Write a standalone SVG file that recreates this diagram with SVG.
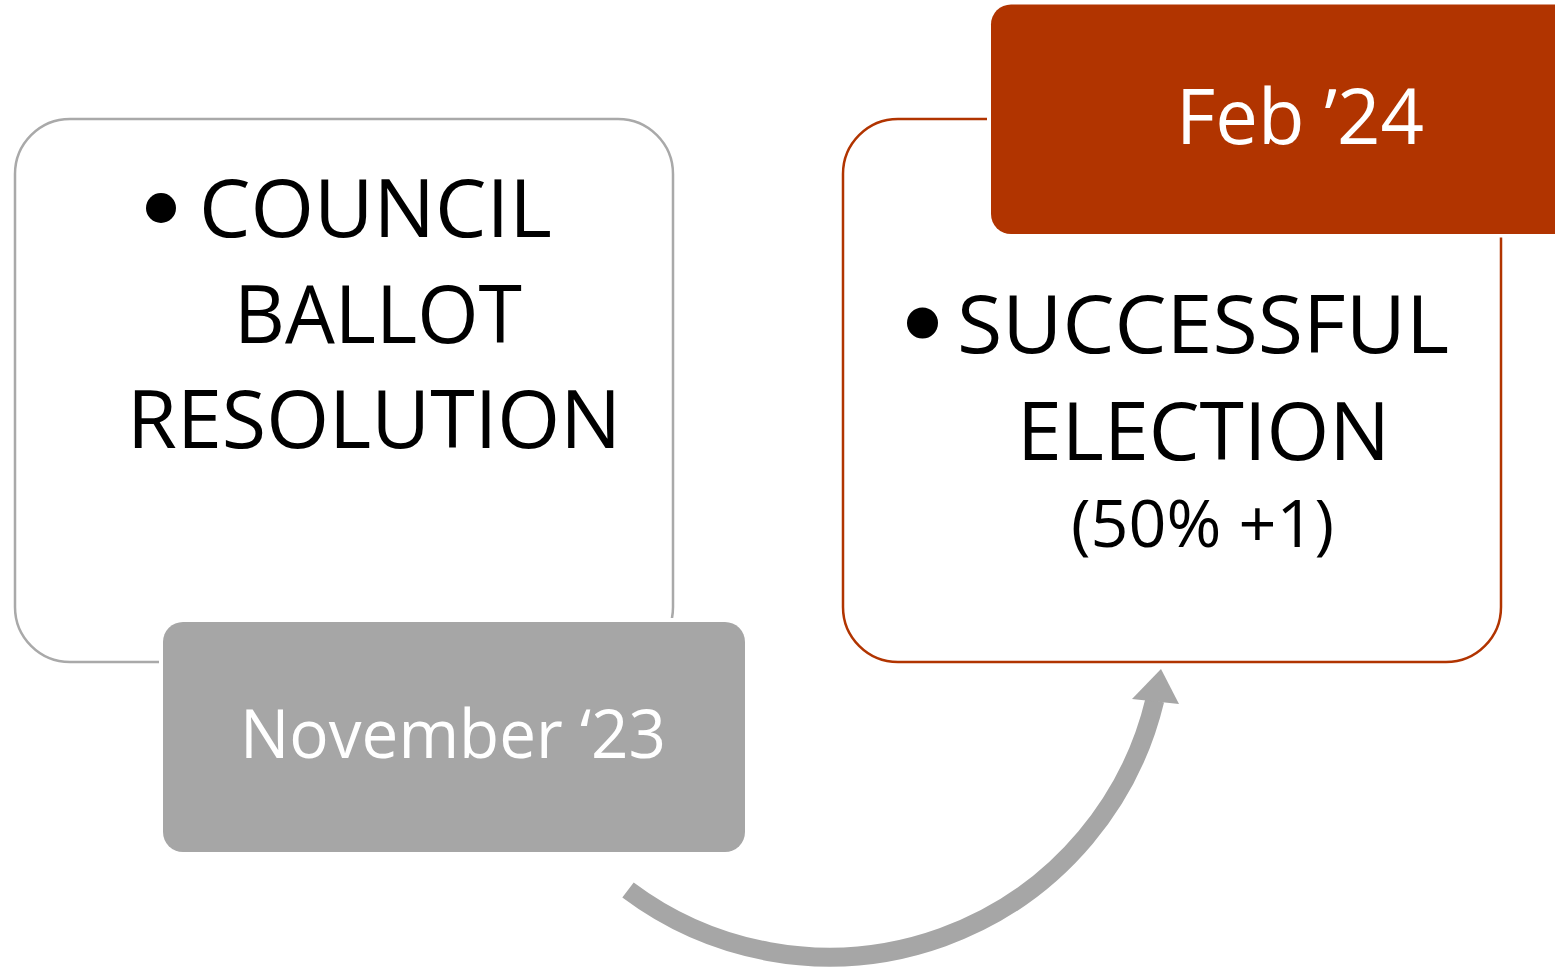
<svg xmlns="http://www.w3.org/2000/svg" width="1555" height="969" viewBox="0 0 1555 969">
  <style>
    .t { font-family: "Open Sans", "Noto Sans", "Liberation Sans", sans-serif; }
    .main { font-size: 81px; fill: #000000; }
    .sub { font-size: 66px; fill: #000000; }
    .lbl { fill: #ffffff; }
    .halo { fill: #ffffff; }
  </style>
  <rect width="1555" height="969" fill="#ffffff"/>

  <g id="node-council">
    <rect x="15" y="119" width="658" height="543" rx="55" ry="55" fill="#ffffff" stroke="#a9a9a9" stroke-width="2.5"/>
    <circle cx="161" cy="208" r="15" fill="#000000"/>
    <text class="t main" x="199" y="237" textLength="353" lengthAdjust="spacingAndGlyphs">COUNCIL</text>
    <text class="t main" x="234" y="343" textLength="288" lengthAdjust="spacingAndGlyphs">BALLOT</text>
    <text class="t main" x="127" y="448" textLength="494" lengthAdjust="spacingAndGlyphs">RESOLUTION</text>
  </g>

  <g id="node-november">
    <rect class="halo" x="159" y="618" width="590" height="238" rx="24" ry="24"/>
    <rect x="163" y="622" width="582" height="230" rx="20" ry="20" fill="#a6a6a6"/>
    <text class="t lbl" x="240" y="758" font-size="67" textLength="426" lengthAdjust="spacingAndGlyphs">November ‘23</text>
  </g>

  <g id="node-election">
    <rect x="843" y="119" width="658" height="543" rx="55" ry="55" fill="#ffffff" stroke="#b13400" stroke-width="2.5"/>
    <circle cx="922.5" cy="323" r="15.5" fill="#000000"/>
    <text class="t main" x="957" y="353" textLength="492" lengthAdjust="spacingAndGlyphs">SUCCESSFUL</text>
    <text class="t main" x="1017" y="460" textLength="373" lengthAdjust="spacingAndGlyphs">ELECTION</text>
    <text class="t sub" x="1071" y="547" textLength="263" lengthAdjust="spacingAndGlyphs">(50% +1)</text>
  </g>

  <g id="node-feb">
    <rect class="halo" x="987" y="0.5" width="620" height="237" rx="24" ry="24"/>
    <rect x="991" y="4.5" width="610" height="229.5" rx="20" ry="20" fill="#b13400"/>
    <text class="t lbl" x="1176" y="144" font-size="77" textLength="248" lengthAdjust="spacingAndGlyphs">Feb ’24</text>
  </g>

  <g id="connectors">
    <path d="M628,890 A335,335 0 0 0 1154.8,700.2" fill="none" stroke="#a6a6a6" stroke-width="19"/>
    <polygon points="1161,669 1179,704 1132,699" fill="#a6a6a6"/>
  </g>
</svg>
